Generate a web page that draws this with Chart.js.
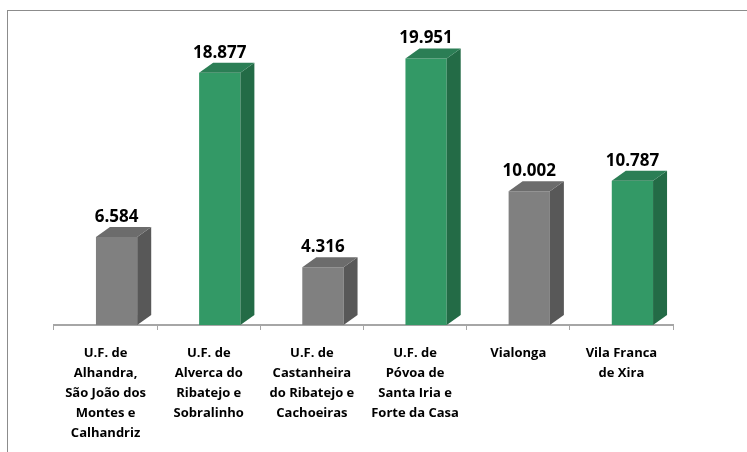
<!DOCTYPE html>
<html>
<head>
<meta charset="utf-8">
<script src="https://cdn.jsdelivr.net/npm/chart.js@4"></script>
<style>
  html, body { margin: 0; padding: 0; background: #fff; }
  #wrap { width: 747px; height: 452px; position: relative; }
</style>
</head>
<body>
<div id="wrap"><canvas id="chart"></canvas></div>
<script>
// data
const labels = [
    ['U.F. de', 'Alhandra,', 'São João dos', 'Montes e', 'Calhandriz'],
    ['U.F. de', 'Alverca do', 'Ribatejo e', 'Sobralinho'],
    ['U.F. de', 'Castanheira', 'do Ribatejo e', 'Cachoeiras'],
    ['U.F. de', 'Póvoa de', 'Santa Iria e', 'Forte da Casa'],
    ['Vialonga'],
    ['Vila Franca', 'de Xira'],
];
const values = [6584, 18877, 4316, 19951, 10002, 10787];

const frontColors = ['#808080', '#339966', '#808080', '#339966', '#808080', '#339966'];
const sideColors = ['#585858', '#236b46', '#585858', '#236b46', '#585858', '#236b46'];
const topColors = ['#6c6c6c', '#2b7e55', '#6c6c6c', '#2b7e55', '#6c6c6c', '#2b7e55'];

const SHIFT = 11; // 3d projection pushes the bars right of the category centre
const DX = 14;
const DY = 10;

function fmt(v) {
    return String(v).replace(/\B(?=(\d{3})+(?!\d))/g, '.');
}

// fake 3d bars: side + top faces and the value on top
const bar3d = {
    id: 'bar3d',
    beforeDatasetsDraw(chart) {
        chart.ctx.save();
        chart.ctx.translate(SHIFT, 0);
    },
    afterDatasetsDraw(chart) {
        const ctx = chart.ctx;
        const meta = chart.getDatasetMeta(0);
        meta.data.forEach((bar, i) => {
            const l = bar.x - bar.width / 2;
            const r = bar.x + bar.width / 2;
            const t = bar.y;
            const b = bar.base;

            ctx.fillStyle = sideColors[i];
            ctx.beginPath();
            ctx.moveTo(r, t);
            ctx.lineTo(r + DX, t - DY);
            ctx.lineTo(r + DX, b - DY);
            ctx.lineTo(r, b);
            ctx.closePath();
            ctx.fill();

            ctx.fillStyle = topColors[i];
            ctx.beginPath();
            ctx.moveTo(l, t);
            ctx.lineTo(l + DX, t - DY);
            ctx.lineTo(r + DX, t - DY);
            ctx.lineTo(r, t);
            ctx.closePath();
            ctx.fill();

            ctx.fillStyle = '#000';
            ctx.font = 'bold 17px "Open Sans"';
            ctx.textAlign = 'center';
            ctx.textBaseline = 'middle';
            ctx.fillText(fmt(values[i]), bar.x, t - DY - 10);
        });
        ctx.restore();
    },
    afterDraw(chart) {
        const ctx = chart.ctx;
        ctx.save();
        ctx.strokeStyle = '#8c8c8c';
        ctx.lineWidth = 1;
        ctx.strokeRect(7.5, 10.5, 900, 600);
        ctx.restore();
    },
};

new Chart(document.getElementById('chart'), {
    type: 'bar',
    data: {
        labels: labels,
        datasets: [
            {
                data: values,
                backgroundColor: frontColors,
                categoryPercentage: 1,
                barPercentage: 0.4,
                clip: false,
            },
        ],
    },
    options: {
        responsive: true,
        maintainAspectRatio: false,
        animation: false,
        layout: {
            padding: { left: 54, right: 74, top: 31, bottom: 0 },
        },
        plugins: {
            legend: { display: false },
            tooltip: { enabled: false },
        },
        scales: {
            y: {
                display: false,
                min: 0,
                max: 22000,
            },
            x: {
                afterFit(scale) {
                    scale.height = 127;
                },
                border: { color: '#a6a6a6', width: 2 },
                grid: {
                    drawOnChartArea: false,
                    color: '#a6a6a6',
                    tickLength: 5,
                },
                ticks: {
                    color: '#000',
                    font: { family: 'Open Sans', weight: 'bold', size: 13, lineHeight: 1.55 },
                    maxRotation: 0,
                    autoSkip: false,
                    padding: 13,
                },
            },
        },
    },
    plugins: [bar3d],
});
</script>
</body>
</html>
